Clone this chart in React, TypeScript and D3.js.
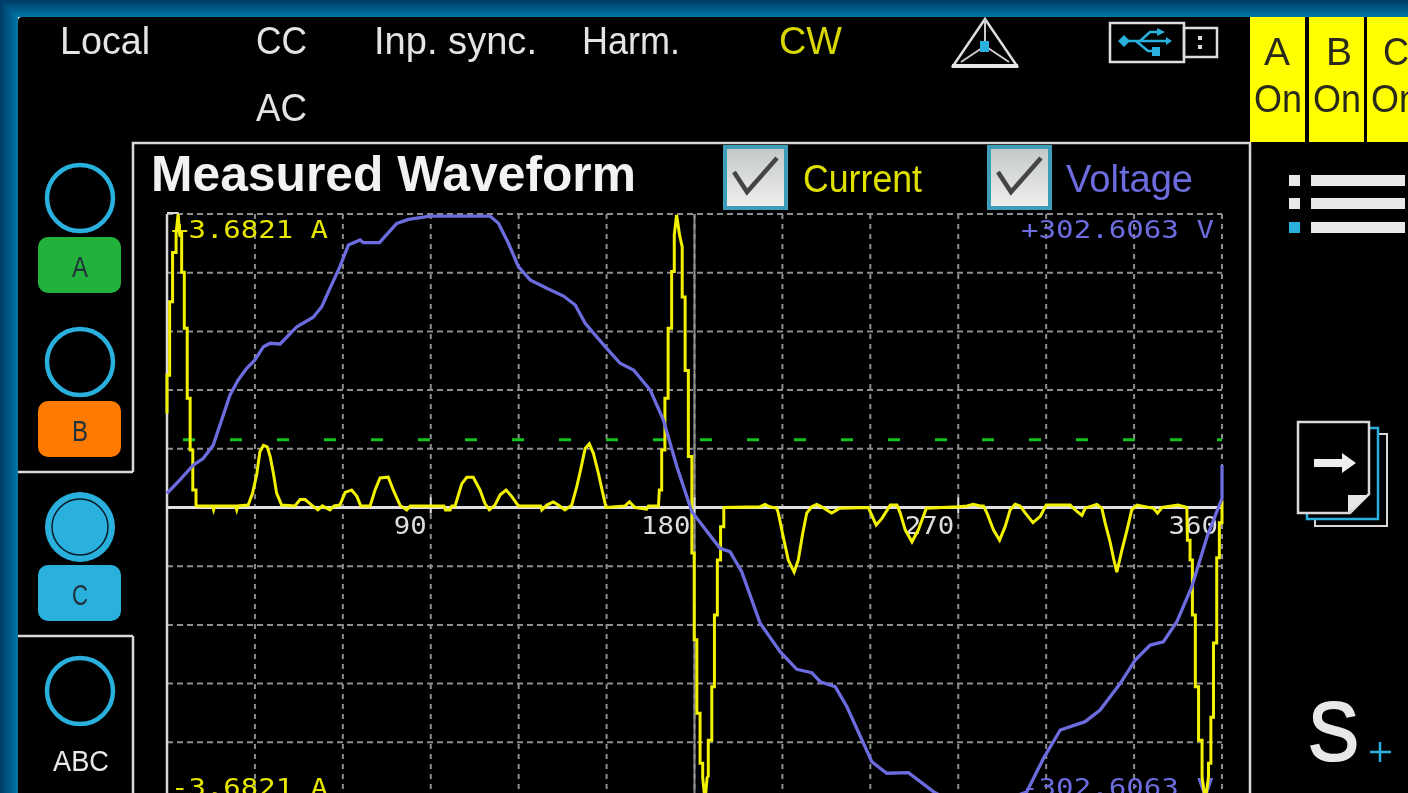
import React from "react";
import * as d3 from "d3";

type P = [number, number];

const title = "Measured Waveform";
const angleTicks = [90, 180, 270, 360];
const angleGrid = d3.range(0, 361, 30);
const fullScaleAmps = 3.6821;
const fullScaleVolts = 302.6063;
const levelGrid = [1, 0.8, 0.6, 0.4, 0.2, -0.2, -0.4, -0.6, -0.8, -1];
const triggerLevelAmps = 0.85;

// [degrees, amps]
const currentTrace: P[] = [
  [0,1.18],[0,1.66],[0.9,1.66],[0.9,2.58],[1.9,2.58],[1.9,3.2],[3.1,3.2],[3.1,3.44],[3.8,3.68],[4.3,3.44],[5,3.44],[5,2.95],[5.9,2.95],[5.9,2.25],[6.9,2.25],[6.9,1.37],[7.9,1.37],[7.9,0.72],[8.8,0.72],[8.8,0.22],[9.9,0.22],[9.9,0.02],
  [15.5,0.02],[15.9,-0.03],[16.3,0.02],[23.4,0.02],[23.8,-0.03],[24.2,0.02],
  [27.7,0.03],[29.2,0.18],[30.6,0.41],[31.7,0.7],[32.9,0.78],[34.2,0.76],[35.2,0.64],[36.3,0.43],[37.4,0.18],[39.1,0.03],
  [43.7,0.02],[45.4,0.1],[47.1,0.1],[49.7,0.02],[51.5,-0.03],[53,0.02],[55.6,-0.03],[57,0.02],
  [59,0.03],[60.8,0.19],[63,0.22],[64.8,0.14],[66.1,0.02],
  [69.3,0.02],[71,0.22],[72.7,0.37],[75.5,0.38],[77.2,0.22],[79.5,0.03],[81.8,-0.03],[83,0.02],
  [94.5,0.02],[95,-0.03],[96.6,-0.03],[97.2,0.02],
  [98.3,0.02],[100.6,0.3],[102.3,0.38],[104.5,0.38],[106.8,0.22],[108.5,0.05],[110,-0.03],
  [111.9,0.03],[113.7,0.16],[115.7,0.22],[117.6,0.14],[119.9,0.02],
  [127.5,0.02],[127.9,-0.03],[129.6,0.03],[131.8,0.07],[133.5,0.03],[135.8,-0.03],[138.1,0.03],
  [139.8,0.26],[141,0.45],[142.7,0.74],[144.1,0.8],[145.5,0.68],[147.2,0.43],[148.7,0.18],[149.8,0],
  [156.3,0.02],[157.8,0.07],[159.7,0],[163.7,-0.02],[164.3,0.02],[167.7,0.02],
  [168,0.22],[168.8,0.22],[168.8,0.72],[169.9,0.72],[169.9,1.37],[171,1.37],[171,2.25],[172.2,2.25],[172.2,2.96],[173.1,2.96],[173.1,3.42],[173.9,3.67],[174.9,3.42],[175.8,3.27],[175.8,2.64],[176.8,2.64],[176.8,1.72],[177.9,1.72],[177.9,0.64],[179.1,0.64],
  [179.1,-0.57],[179.9,-0.57],[179.9,-1.66],[180.8,-1.66],[180.8,-2.58],[181.9,-2.58],[181.9,-3.21],[182.8,-3.21],[182.8,-3.39],[183.6,-3.68],[184.3,-3.39],[184.7,-3.37],[184.7,-2.92],[185.9,-2.92],[185.9,-2.25],[186.8,-2.25],[186.8,-1.35],[187.8,-1.35],[187.8,-0.66],[188.9,-0.66],[188.9,-0.24],[190,-0.24],[190,0],
  [202.4,0.01],[204.1,0.04],[205.6,0.01],[208.1,-0.01],
  [208.6,-0.07],[210.3,-0.37],[212,-0.66],[214,-0.81],[215.4,-0.66],[216.9,-0.33],[218.3,-0.07],[220,0.01],
  [221.7,0.04],[223.4,0.01],[225.1,-0.03],[226.8,-0.07],[228.6,-0.03],[229.5,-0.01],
  [239.4,0],[239.9,-0.05],[242,-0.22],[243.9,-0.14],[246.8,0.03],[249.1,0.03],
  [250.2,-0.07],[251.9,-0.28],[254.2,-0.43],[256.4,-0.28],[258.1,-0.11],[259.1,-0.01],
  [270,0.01],[273,0.02],[275.1,0.04],[277.5,0.02],[278.6,0.02],
  [279.8,-0.07],[282,-0.28],[284.1,-0.41],[286,-0.24],[287.7,-0.03],[289.4,0.04],[291.1,0.02],
  [292.9,-0.07],[295.5,-0.19],[298,-0.11],[300,0.03],
  [308.2,0.03],[310.5,-0.05],[312.2,-0.1],[313.3,-0.01],[317.3,0.04],[319,-0.01],
  [320.1,-0.19],[321.8,-0.43],[323,-0.64],[324.1,-0.81],[325.8,-0.54],[327.6,-0.28],[329.2,-0.03],[331,0.03],
  [336.6,-0.01],[338,-0.07],[339.5,0],[345,0.03],[348,0],
  [348.2,-0.41],[349.1,-0.41],[349.1,-0.66],[349.9,-0.66],[349.9,-1.35],[350.9,-1.35],[350.9,-2.25],[352,-2.25],[352,-2.92],[353.2,-2.92],[353.2,-3.38],[354.3,-3.68],[355.4,-3.38],[355.4,-3.21],[356.2,-3.21],[356.2,-2.63],[357.1,-2.63],[357.1,-1.7],[358.2,-1.7],[358.2,-0.63],[359.1,-0.63],[359.1,-0.19],[360,-0.19],[360,0.09],
];

// [degrees, volts]
const voltageTrace: P[] = [
  [0,14.6],[4.4,28.4],[9,43.8],[12.4,50.7],[15.8,64.4],[17.5,79.9],[19.8,100.5],[21.5,116],[24.3,131.5],[27.2,143.5],[30,152.1],[32.9,165.8],[35.2,169.3],[38.6,168.6],[44.3,186.4],[49.9,196.1],[52.8,207],[55.6,226],[59,248.3],[61.9,270.6],[65.9,275.8],[67,273],[72.5,273],[78.4,293],[82.4,297.1],[89.8,300.5],
  [110.2,300.5],[113.1,293],[116.5,272.4],[119.9,248.3],[123.9,234.6],[129.6,226],[135.3,218],[139.3,208.8],[142.7,189.9],[149.5,165.8],[154.6,148.7],[159.2,141.8],[164.9,121.1],[169.4,90.2],[174,42.1],[179.1,-4.3],
  [188.7,-42.1],[192.1,-45.6],[196.1,-66.2],[202.4,-119.4],[209.2,-148.7],[214.9,-166.8],[220,-170.3],[222.9,-179.6],[228,-184.8],[232,-205.4],[240.5,-262.1],[245.6,-274],[253,-273.4],[261.5,-293],[265.5,-299.5],
  [287.7,-299.5],[293.4,-293],[299.1,-258.6],[304.8,-229.4],[313.3,-220.8],[318.4,-208.8],[325.3,-181.3],[330.4,-157.2],[335.5,-141.8],[340,-138.4],[344.6,-117.7],[349.7,-81.7],[354.9,-30.1],[360,9.5],[360,43.8],
];

const W = 1408, H = 793;
const yellow = "#f2f200", violet = "#6c6cdf", cyan = "#29b0dd", white = "#e4e4e4", grid = "#8e8e8e";
const narrow = "'Liberation Sans', Arial, sans-serif";
const mono = "'DejaVu Sans Mono', monospace";

const x = d3.scaleLinear().domain([0, 360]).range([167, 1222]);
const yNorm = d3.scaleLinear().domain([-1, 1]).range([801, 214]);
const yAmps = d3.scaleLinear().domain([-fullScaleAmps, fullScaleAmps]).range([801, 214]);
const yVolts = d3.scaleLinear().domain([-fullScaleVolts, fullScaleVolts]).range([801, 214]);
const currentPath = d3.line<P>().x(d => x(d[0])).y(d => yAmps(d[1]))(currentTrace)!;
const voltagePath = d3.line<P>().x(d => x(d[0])).y(d => yVolts(d[1]))(voltageTrace)!;

function T({ x, y, w, s = 38, fill = white, children, weight, family = narrow, stroke, sw }: any) {
  return (
    <text x={x} y={y} fontSize={s} fill={fill} fontFamily={family} fontWeight={weight}
      stroke={stroke} strokeWidth={sw} textLength={w} lengthAdjust="spacingAndGlyphs">{children}</text>
  );
}

function Check({ x: bx }: { x: number }) {
  return (
    <g>
      <rect x={bx + 2} y={147} width={61} height={61} fill="url(#box)" stroke="#3c9dbb" strokeWidth={4} />
      <path d={`M${bx + 11} ${172} L${bx + 24} ${192} L${bx + 54} ${158}`} fill="none" stroke="#444" strokeWidth={4.5} />
    </g>
  );
}

function Tab({ y, fill, label }: { y: number; fill: string; label: string }) {
  return (
    <g>
      <rect x={38} y={y} width={83} height={56} rx={10} fill={fill} />
      <T x={80 - 8} y={y + 40} w={16} s={30} fill="#20303a">{label}</T>
    </g>
  );
}

export default function App() {
  return (
    <svg width={W} height={H} viewBox={`0 0 ${W} ${H}`} style={{ position: "fixed", left: 0, top: 0, display: "block" }}>
      <defs>
        <linearGradient id="edgeTop" x1="0" y1="0" x2="0" y2="1">
          <stop offset="0" stopColor="#003a66" /><stop offset="1" stopColor="#0078a8" />
        </linearGradient>
        <linearGradient id="edgeLeft" x1="0" y1="0" x2="1" y2="0">
          <stop offset="0" stopColor="#003a66" /><stop offset="1" stopColor="#0078a8" />
        </linearGradient>
        <linearGradient id="box" x1="0" y1="0" x2="0" y2="1">
          <stop offset="0" stopColor="#c4c8c8" /><stop offset="1" stopColor="#eef0ee" />
        </linearGradient>
        <filter id="soft" x="0" y="0" width="100%" height="100%"><feGaussianBlur stdDeviation="0.7" /></filter>
      </defs>
      <rect y={0} width={18} height={H} fill="url(#edgeLeft)" />
      <path d={`M0 0 L${W} 0 L${W} 17 L18 17 Z`} fill="url(#edgeTop)" />
      <rect x={18} y={17} width={W} height={H} rx={4} fill="#000" />
      <g filter="url(#soft)">
        {/* status bar */}
        <T x={60} y={54} w={90}>Local</T>
        <T x={256} y={54} w={51}>CC</T>
        <T x={256} y={121} w={51}>AC</T>
        <T x={374} y={54} w={163}>Inp. sync.</T>
        <T x={582} y={54} w={98}>Harm.</T>
        <T x={779} y={54} w={63} fill="#d8d800">CW</T>

        {/* triangle icon */}
        <path d="M985 19 L953 66 L1017 66 Z" fill="none" stroke="#ddd" strokeWidth={2.5} />
        <path d="M985 19 L985 46 M985 46 L961 62 M985 46 L1009 62" stroke="#ccc" strokeWidth={2} fill="none" />
        <rect x={952} y={64} width={66} height={4} fill="#e8e8e8" />
        <rect x={980} y={41} width={9} height={11} fill={cyan} />

        {/* usb icon */}
        <rect x={1110} y={23} width={74} height={39} fill="none" stroke="#ddd" strokeWidth={2.5} />
        <rect x={1184} y={28} width={33} height={29} fill="none" stroke="#ddd" strokeWidth={2.5} />
        <rect x={1198} y={36} width={4} height={4} fill="#ddd" />
        <rect x={1198} y={45} width={4} height={4} fill="#ddd" />
        <path d="M1118 41 L1124 35 L1130 41 L1124 47 Z M1172 41 L1166 37 L1166 45 Z" fill={cyan} />
        <path d="M1124 41 L1168 41 M1140 41 L1150 32 L1160 32 M1136 41 L1148 51 L1154 51" stroke={cyan} strokeWidth={2.5} fill="none" />
        <path d="M1157 28 L1165 32 L1157 36 Z" fill={cyan} />
        <rect x={1152} y={47} width={8} height={9} fill={cyan} />

        {/* phase buttons */}
        {[[1250, 55, "A", 1264], [1309, 55, "B", 1326], [1367, 60, "C", 1383]].map(([bx, bw, l, tx]: any) => (
          <g key={l}>
            <rect x={bx} y={17} width={bw} height={125} fill="#ffff00" />
            <T x={tx} y={65} w={26} fill="#2a2a1a">{l}</T>
            <T x={bx + 4} y={112} w={48} fill="#2a2a1a">On</T>
          </g>
        ))}

        {/* panel frame */}
        <path d="M133 472 L133 143 L1250 143 L1250 793 M133 793 L133 636 M18 472 L133 472 M18 636 L133 636" fill="none" stroke="#d8d8d8" strokeWidth={2.5} />

        {/* channel selectors */}
        <circle cx={80} cy={198} r={33} fill="none" stroke={cyan} strokeWidth={4.5} />
        <Tab y={237} fill="#22b23a" label="A" />
        <circle cx={80} cy={362} r={33} fill="none" stroke={cyan} strokeWidth={4.5} />
        <Tab y={401} fill="#ff7a00" label="B" />
        <circle cx={80} cy={527} r={35} fill={cyan} />
        <circle cx={80} cy={527} r={28} fill="none" stroke="#0a1a22" strokeWidth={1.5} />
        <Tab y={565} fill={cyan} label="C" />
        <circle cx={80} cy={691} r={33} fill="none" stroke={cyan} strokeWidth={4.5} />
        <T x={53} y={771} w={56} s={30} fill="#e8e8e8">ABC</T>

        {/* title and legend */}
        <T x={151} y={191} w={485} s={50} weight="bold" fill="#f2f2f2">{title}</T>
        <Check x={723} />
        <T x={803} y={192} w={119} fill="#e0e000">Current</T>
        <Check x={987} />
        <T x={1066} y={192} w={127} fill={violet}>Voltage</T>

        {/* grid */}
        {levelGrid.map(l => (
          <line key={l} x1={x(0)} x2={x(360)} y1={yNorm(l)} y2={yNorm(l)} stroke={grid} strokeWidth={2} strokeDasharray="6 4" />
        ))}
        {angleGrid.map(a => (
          <line key={a} x1={x(a)} x2={x(a)} y1={yNorm(1)} y2={yNorm(-1)} stroke={grid} strokeWidth={2} strokeDasharray="5 5" />
        ))}
        <line x1={x(0)} x2={x(0)} y1={yNorm(1)} y2={H} stroke="#d8d8d8" strokeWidth={2.5} />
        <line x1={x(180)} x2={x(180)} y1={yNorm(1)} y2={H} stroke="#8e8e8e" strokeWidth={2} />
        <path d={`M${x(0)} 213 L${x(4)} 213`} stroke="#d8d8d8" strokeWidth={2} />
        <line x1={x(0)} x2={x(360)} y1={yNorm(0)} y2={yNorm(0)} stroke="#e0e0e0" strokeWidth={3} />
        {angleTicks.map(a => (
          <line key={a} x1={x(a)} x2={x(a)} y1={yNorm(0) - 10} y2={yNorm(0) + 6} stroke="#e0e0e0" strokeWidth={2} />
        ))}
        <line x1={183} x2={x(360)} y1={yAmps(triggerLevelAmps)} y2={yAmps(triggerLevelAmps)} stroke="#12c21e" strokeWidth={3} strokeDasharray="12 35" />

        {/* scale labels */}
        {angleTicks.map(a => {
          const s = String(a);
          const w = s.length * 16.5;
          return <T key={a} x={x(a) - w - 4} y={534} w={w} s={25} fill="#dcdcdc" family={mono}>{s}</T>;
        })}
        <T x={171} y={238} w={157} s={25} fill="#e6e600" family={mono}>+3.6821 A</T>
        <T x={171} y={796} w={157} s={25} fill="#e6e600" family={mono}>-3.6821 A</T>
        <T x={1021} y={238} w={193} s={25} fill={violet} family={mono}>+302.6063 V</T>
        <T x={1021} y={796} w={193} s={25} fill={violet} family={mono}>-302.6063 V</T>

        {/* traces */}
        <path d={currentPath} fill="none" stroke={yellow} strokeWidth={3} />
        <path d={voltagePath} fill="none" stroke={violet} strokeWidth={3.3} />

        {/* menu icon */}
        {[175, 198, 222].map((yy, i) => (
          <g key={yy}>
            <rect x={1289} y={yy} width={11} height={11} fill={i === 2 ? cyan : "#e8e8e8"} />
            <rect x={1311} y={yy} width={94} height={11} fill="#e8e8e8" />
          </g>
        ))}

        {/* page stack icon */}
        <rect x={1315} y={434} width={72} height={92} fill="none" stroke="#d8d8d8" strokeWidth={2} />
        <rect x={1307} y={428} width={71} height={91} fill="#000" stroke={cyan} strokeWidth={2.5} />
        <path d="M1298 422 L1369 422 L1369 494 L1350 513 L1298 513 Z" fill="#000" stroke="#d8d8d8" strokeWidth={2.5} />
        <path d="M1348 513 L1348 495 L1369 495 Z" fill="#e6e6e6" />
        <path d="M1314 459 L1342 459 L1342 453 L1356 463 L1342 473 L1342 467 L1314 467 Z" fill="#eee" />

        {/* speed icon */}
        <T x={1308} y={760} w={51} s={84} fill="#e8e8e8" stroke="#e8e8e8" sw={2.2}>S</T>
        <path d="M1370 752 L1391 752 M1380 742 L1380 762" stroke={cyan} strokeWidth={2.5} />
      </g>
    </svg>
  );
}
